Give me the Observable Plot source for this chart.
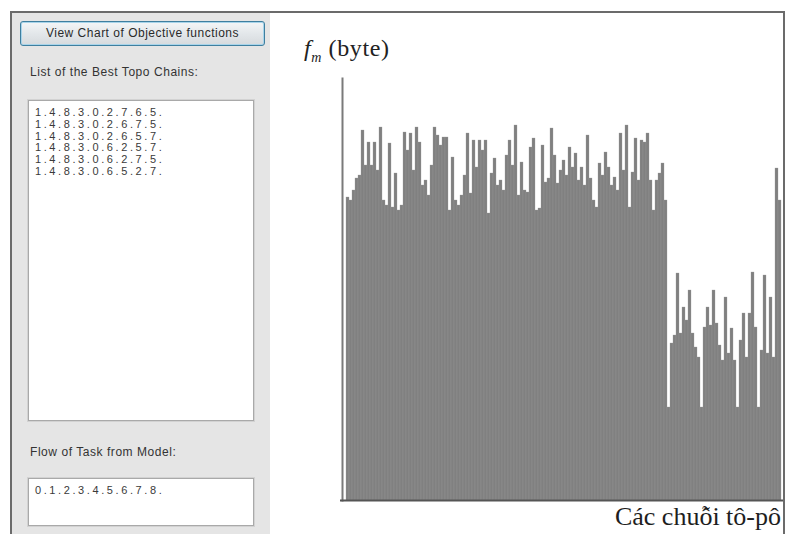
<!DOCTYPE html>
<html>
<head>
<meta charset="utf-8">
<script src="https://cdn.jsdelivr.net/npm/d3@7"></script>
<script src="https://cdn.jsdelivr.net/npm/@observablehq/plot@0.6"></script>
<style>
  html, body { margin: 0; padding: 0; }
  body { width: 791px; height: 534px; position: relative; overflow: hidden; background: #fff; font-family: "Liberation Sans", "DejaVu Sans", sans-serif; }
  .abs { position: absolute; }
  #frame { left: 10px; top: 11px; width: 771px; height: 540px; border: 2px solid #6b6b6b; box-sizing: content-box; }
  #panel { left: 12px; top: 13px; width: 258px; height: 521px; background: #e5e5e5; }
  #btn { left: 20px; top: 21px; width: 243px; height: 23px; border: 1px solid #3f7f9f; border-radius: 3px;
         background: linear-gradient(#f4f6f7, #e3e7ea 50%, #d6dadd); box-shadow: 0 0 0 1px #a8d4ea inset;
         font-size: 12px; letter-spacing: 0.5px; color: #2a2a2a; text-align: center; line-height: 23px; }
  .lbl { font-size: 12px; letter-spacing: 0.55px; color: #333; }
  .box { background: #fff; border: 1px solid #a9a9a9; box-shadow: 0 0 0 1px #d2d2d2; }
  .mono { font-size: 11px; color: #3a3a3a; letter-spacing: 2.6px; line-height: 11.8px; white-space: pre; }
  #ytitle { left: 304px; top: 35px; font-family: "Liberation Serif", serif; font-size: 24px; letter-spacing: 0.6px; color: #222; }
  #xtitle { right: 10px; top: 502px; font-family: "Liberation Serif", serif; font-size: 26px; color: #1e1e1e; }
  #chart { left: 270px; top: 13px; }
</style>
</head>
<body>
<div id="panel" class="abs"></div>
<div id="frame" class="abs"></div>
<div id="btn" class="abs">View Chart of Objective functions</div>
<div id="lbl1" class="abs lbl" style="left:30px;top:65px;">List of the Best Topo Chains:</div>
<div id="box1" class="abs box" style="left:28px;top:100px;width:224px;height:319px;"></div>
<div id="chainsText" class="abs mono" style="left:35px;top:107px;"></div>
<div id="lbl2" class="abs lbl" style="left:30px;top:445px;">Flow of Task from Model:</div>
<div id="box2" class="abs box" style="left:28px;top:478px;width:224px;height:46px;"></div>
<div id="flowText" class="abs mono" style="left:35px;top:485px;"></div>
<div id="ytitle" class="abs"><i>f</i><sub style="font-size:14px"><i>m</i></sub> (byte)</div>
<div id="chart" class="abs"></div>
<div id="xtitle" class="abs">Các chuỗi tô-pô</div>
<script>
// Best topo chains listed in the left panel
const chains = [
  "1.4.8.3.0.2.7.6.5.",
  "1.4.8.3.0.2.6.7.5.",
  "1.4.8.3.0.2.6.5.7.",
  "1.4.8.3.0.6.2.5.7.",
  "1.4.8.3.0.6.2.7.5.",
  "1.4.8.3.0.6.5.2.7."
];
// Flow of tasks from the model
const flow = "0.1.2.3.4.5.6.7.8.";

// Objective function fm (bytes, relative units) for each topo chain
const fmGroupA = [
  303, 300, 310, 322, 325, 370, 335, 358, 335, 358,
  330, 373, 300, 295, 357, 293, 327, 290, 295, 368,
  350, 367, 330, 373, 358, 315, 320, 305, 335, 373,
  365, 355, 363, 363, 290, 343, 300, 295, 305, 325,
  367, 307, 360, 333, 360, 350, 360, 287, 327, 342,
  315, 320, 310, 345, 360, 335, 375, 305, 338, 310,
  308, 353, 362, 290, 292, 355, 318, 322, 372, 345,
  317, 330, 340, 325, 353, 333, 347, 320, 333, 315,
  365, 322, 300, 293, 337, 325, 348, 333, 315, 323,
  310, 367, 330, 375, 293, 328, 362, 320, 360, 358,
  367, 320, 290, 320, 327, 337, 300
];
const fmGroupB = [
  93, 157, 165, 227, 167, 193, 180, 210, 167, 153,
  143, 93, 173, 193, 175, 210, 177, 155, 140, 203,
  147, 172, 140, 93, 160, 187, 143, 187, 228, 173,
  93, 150, 225, 147, 203, 143
];
const fmGroupC = [332, 300];
const fmMax = 422;

const fmValues = [...fmGroupA, ...fmGroupB, ...fmGroupC];
const data = fmValues.map((v, i) => ({chain: i + 1, fm: v}));

document.getElementById("chainsText").textContent = chains.join("\n");
document.getElementById("flowText").textContent = flow;

const chart = Plot.plot({
  width: 513,
  height: 521,
  marginLeft: 76,
  marginRight: 2,
  marginTop: 65,
  marginBottom: 34,
  x: {type: "band", domain: data.map(d => d.chain), padding: 0, axis: null},
  y: {domain: [0, fmMax], axis: null},
  marks: [
    Plot.barY(data, {x: "chain", y: "fm", fill: "#808080", stroke: "#9a9a9a", strokeWidth: 0.3}),
    Plot.frame({anchor: "left", stroke: "#7a7a7a", strokeWidth: 2, dx: -4}),
    Plot.ruleY([0], {stroke: "#555", strokeWidth: 2, insetLeft: -6, insetRight: -2})
  ]
});
document.getElementById("chart").appendChild(chart);
</script>
</body>
</html>
